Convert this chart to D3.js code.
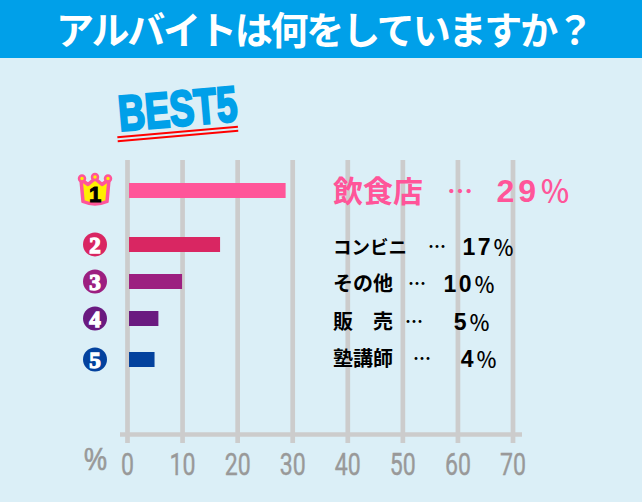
<!DOCTYPE html>
<html>
<head>
<meta charset="utf-8">
<script src="https://d3js.org/d3.v7.min.js"></script>
<style>
  html, body { margin: 0; padding: 0; background: #dbeff7; overflow: hidden; }
  text { font-family: "Noto Sans CJK JP", sans-serif; }
  .tick-label { font-family: "Roboto", sans-serif; }
</style>
</head>
<body>
<svg id="chart" width="642" height="502"></svg>
<script>
  const categories = ["飲食店", "コンビニ", "その他", "販　売", "塾講師"]
  const barValues = [28.8, 16.9, 10, 5.7, 5]
  const pctNumbers = ["29", "17", "10", "5", "4"]
  const ranks = ["1", "2", "3", "4", "5"]
  const colors = ["#ff5599", "#d92662", "#9c1f80", "#6a1a80", "#03429e"]
  const rowCenters = [190.5, 244.5, 281.5, 318.5, 359.5]
  const labelCenters = [190.5, 247, 284, 322, 359]
  const barTicks = [0, 10, 20, 30, 40, 50, 60, 70]

  const svg = d3.select("#chart")
  const x = d3.scaleLinear().domain([0, 70]).range([127, 512.5])

  // header
  svg.append("rect").attr("width", 642).attr("height", 58).attr("fill", "#00a0e9")
  svg.append("text").attr("x", 56).attr("y", 44)
    .attr("fill", "#fff").attr("font-size", 38).attr("font-weight", 700)
    .attr("textLength", 538).attr("lengthAdjust", "spacing")
    .text("アルバイトは何をしていますか？")

  // BEST5
  const best = svg.append("g").attr("transform", "translate(120,133) rotate(-5)")
  best.append("text").attr("transform", "translate(0,-2) scale(0.74,1)").attr("font-size", 50).attr("font-weight", 900)
    .style("font-family", "'Liberation Sans', sans-serif")
    .attr("stroke", "#00a0e9").attr("stroke-width", 2.5)
    .attr("fill", "#00a0e9").text("BEST5")
  best.append("line").attr("x1", -3).attr("x2", 118).attr("y1", 4).attr("y2", 4)
    .attr("stroke", "#f00").attr("stroke-width", 2)
  best.append("line").attr("x1", -3).attr("x2", 118).attr("y1", 8).attr("y2", 8)
    .attr("stroke", "#f00").attr("stroke-width", 2)

  // axis and grid
  const axis = svg.append("g").attr("transform", "translate(0,434)")
    .call(d3.axisBottom(x).tickValues(barTicks).tickSize(9).tickSizeOuter(0).tickPadding(10))
  axis.select(".domain").remove()
  axis.selectAll(".tick line").attr("y1", -274).attr("stroke", "#cccccc").attr("stroke-width", 4.7)
  axis.selectAll(".tick text").attr("class", "tick-label").attr("fill", "#999")
    .attr("stroke", "#999").attr("stroke-width", 0.4)
    .attr("font-size", 31)
    .attr("textLength", d => d === 0 ? 13 : 26).attr("lengthAdjust", "spacingAndGlyphs")
  svg.append("line").attr("x1", 120).attr("x2", 522).attr("y1", 434.5).attr("y2", 434.5)
    .attr("stroke", "#cccccc").attr("stroke-width", 4.7)
  svg.append("text").attr("x", 84).attr("y", 470)
    .style("font-family", "'Liberation Sans', sans-serif")
    .attr("fill", "#999").attr("font-size", 31)
    .attr("stroke", "#999").attr("stroke-width", 0.7)
    .attr("textLength", 23).attr("lengthAdjust", "spacingAndGlyphs").text("%")

  // bars
  svg.selectAll(".bar").data(barValues).join("rect").attr("class", "bar")
    .attr("x", 129).attr("y", (d, i) => rowCenters[i] - 7.5)
    .attr("width", d => x(d) - 129).attr("height", 15)
    .attr("fill", (d, i) => colors[i])

  // rank 1 crown
  const crown = svg.append("g").attr("transform", "translate(95," + rowCenters[0] + ")")
  crown.append("path")
    .attr("d", "M-14,-11 L-12,11 Q0,16 12,11 L14,-11 L7,-6 L0,-12 L-7,-6 Z")
    .attr("fill", "#ffef00").attr("stroke", "#ff5599").attr("stroke-width", 3.5).attr("stroke-linejoin", "round")
  ;[[-13, -12], [0, -13.5], [13, -12]].forEach(p => {
    crown.append("circle").attr("cx", p[0]).attr("cy", p[1]).attr("r", 3)
      .attr("fill", "#ffef00").attr("stroke", "#ff5599").attr("stroke-width", 2.5)
  })
  crown.append("text").attr("y", 11.5).attr("text-anchor", "middle").attr("font-size", 22).attr("font-weight", 900)
    .style("font-family", "'Liberation Sans', sans-serif").attr("fill", "#000").attr("stroke", "#000").text(ranks[0])

  // rank 2-5 badges
  const badges = svg.selectAll(".badge").data(ranks.slice(1)).join("g").attr("class", "badge")
    .attr("transform", (d, i) => "translate(95," + rowCenters[i + 1] + ")")
  badges.append("circle").attr("r", 12).attr("fill", (d, i) => colors[i + 1])
  badges.append("text").attr("y", 8).attr("text-anchor", "middle").attr("font-size", 23).attr("font-weight", 900)
    .style("font-family", "'Liberation Serif', serif").attr("fill", "#fff").attr("stroke", "#fff").attr("stroke-width", 1.3).text(d => d)

  // labels: name, dots, pct. x positions per row
  const nameX = [333, 333, 333, 333, 333]
  const dotsX = [447, 428, 408, 405, 413]
  const pctRight = [570, 514, 495, 490, 497]
  const labels = svg.selectAll(".label").data(categories).join("g").attr("class", "label")
    .attr("fill", (d, i) => i === 0 ? "#ff5599" : "#000")
  labels.append("text").attr("x", (d, i) => nameX[i]).attr("y", (d, i) => labelCenters[i] + (i === 0 ? 11 : 7))
    .attr("font-size", (d, i) => i === 0 ? 30 : i === 1 ? 18.5 : 20).attr("font-weight", 700).text(d => d)
  labels.append("text").attr("x", (d, i) => dotsX[i]).attr("y", (d, i) => labelCenters[i] + (i === 0 ? 10 : 6))
    .attr("font-size", (d, i) => i === 0 ? 26 : 18).attr("font-weight", 700).text("…")
  const pct = labels.append("text").attr("x", (d, i) => pctRight[i]).attr("y", (d, i) => labelCenters[i] + (i === 0 ? 11 : 8))
    .attr("text-anchor", "end")
  pct.append("tspan").attr("font-size", (d, i) => i === 0 ? 32 : 23).attr("font-weight", 700)
    .style("font-family", "'Liberation Sans', sans-serif")
    .attr("letter-spacing", (d, i) => i === 0 ? 4 : 2.5).text((d, i) => pctNumbers[i])
  pct.append("tspan").attr("font-size", (d, i) => i === 0 ? 30 : 21).attr("font-weight", 500).text("％")
</script>
</body>
</html>
